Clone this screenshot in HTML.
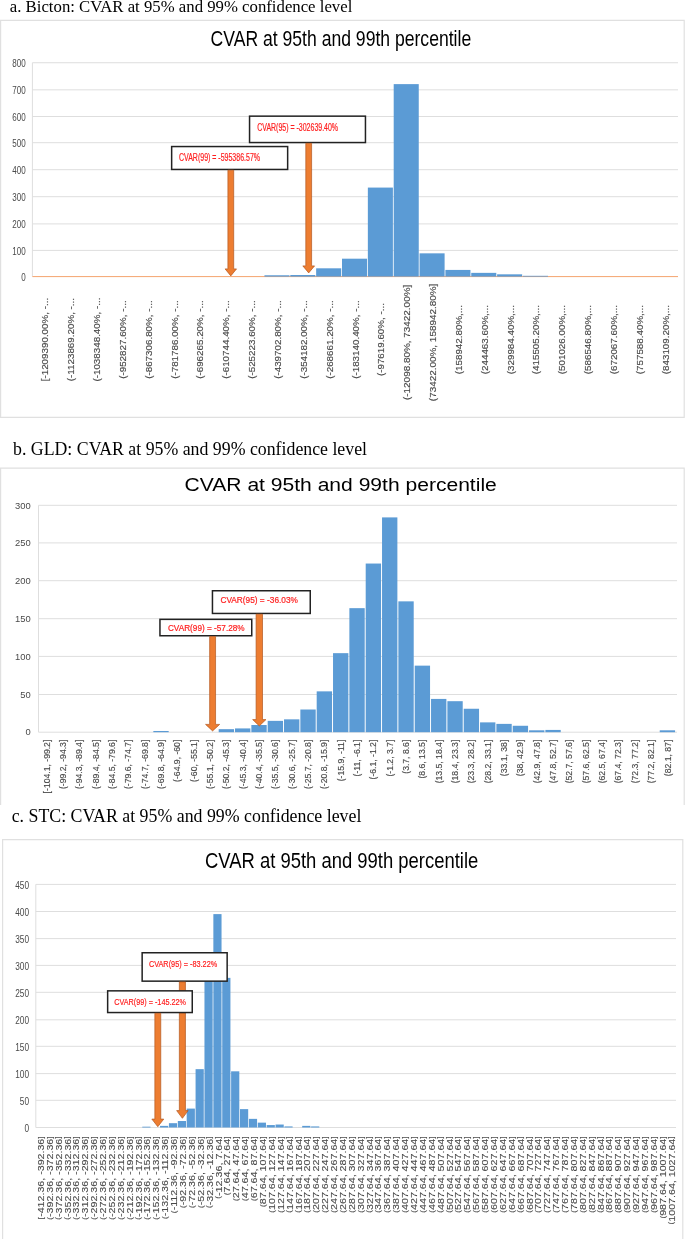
<!DOCTYPE html><html><head><meta charset="utf-8"><style>html,body{margin:0;padding:0;background:#fff;} svg{display:block;will-change:transform;}</style></head><body>
<svg width="685" height="1239" viewBox="0 0 685 1239">
<rect width="685" height="1239" fill="#fff"/>
<text x="9.80" y="12.30" font-family="'Liberation Serif', serif" font-size="16.6" fill="#000" text-anchor="start" textLength="342.50" lengthAdjust="spacingAndGlyphs" >a. Bicton: CVAR at 95% and 99% confidence level</text>
<path d="M0.6,417.3 L0.6,20.3 L684.2,20.3 L684.2,417.3 Z" fill="none" stroke="#e0e0e0" stroke-width="1.2"/>
<text x="210.60" y="46.40" font-family="'Liberation Sans', sans-serif" font-size="21.4" fill="#000" text-anchor="start" textLength="260.60" lengthAdjust="spacingAndGlyphs" >CVAR at 95th and 99th percentile</text>
<line x1="32.4" y1="250.40" x2="678" y2="250.40" stroke="#dedede" stroke-width="1"/>
<line x1="32.4" y1="223.90" x2="678" y2="223.90" stroke="#dedede" stroke-width="1"/>
<line x1="32.4" y1="196.70" x2="678" y2="196.70" stroke="#dedede" stroke-width="1"/>
<line x1="32.4" y1="169.70" x2="678" y2="169.70" stroke="#dedede" stroke-width="1"/>
<line x1="32.4" y1="142.70" x2="678" y2="142.70" stroke="#dedede" stroke-width="1"/>
<line x1="32.4" y1="116.50" x2="678" y2="116.50" stroke="#dedede" stroke-width="1"/>
<line x1="32.4" y1="89.84" x2="678" y2="89.84" stroke="#dedede" stroke-width="1"/>
<line x1="32.4" y1="62.74" x2="678" y2="62.74" stroke="#dedede" stroke-width="1"/>
<line x1="32.4" y1="62.74" x2="32.4" y2="276.60" stroke="#dedede" stroke-width="1"/>
<line x1="32.4" y1="276.60" x2="678" y2="276.60" stroke="#f4a46f" stroke-width="1"/>
<rect x="264.45" y="275.26" width="25.05" height="1.34" fill="#5b9bd5"/>
<rect x="290.30" y="275.00" width="25.05" height="1.60" fill="#5b9bd5"/>
<rect x="316.15" y="268.31" width="25.05" height="8.29" fill="#5b9bd5"/>
<rect x="342.00" y="258.69" width="25.05" height="17.91" fill="#5b9bd5"/>
<rect x="367.85" y="187.58" width="25.05" height="89.02" fill="#5b9bd5"/>
<rect x="393.70" y="84.12" width="25.05" height="192.48" fill="#5b9bd5"/>
<rect x="419.55" y="253.34" width="25.05" height="23.26" fill="#5b9bd5"/>
<rect x="445.40" y="269.92" width="25.05" height="6.68" fill="#5b9bd5"/>
<rect x="471.25" y="272.86" width="25.05" height="3.74" fill="#5b9bd5"/>
<rect x="497.10" y="274.33" width="25.05" height="2.27" fill="#5b9bd5"/>
<rect x="522.95" y="275.80" width="25.05" height="0.80" fill="#5b9bd5"/>
<text x="25.70" y="280.90" font-family="'Liberation Sans', sans-serif" font-size="10.4" fill="#4a4a4a" text-anchor="end" textLength="4.47" lengthAdjust="spacingAndGlyphs" >0</text>
<text x="25.70" y="254.70" font-family="'Liberation Sans', sans-serif" font-size="10.4" fill="#4a4a4a" text-anchor="end" textLength="13.40" lengthAdjust="spacingAndGlyphs" >100</text>
<text x="25.70" y="228.20" font-family="'Liberation Sans', sans-serif" font-size="10.4" fill="#4a4a4a" text-anchor="end" textLength="13.40" lengthAdjust="spacingAndGlyphs" >200</text>
<text x="25.70" y="201.00" font-family="'Liberation Sans', sans-serif" font-size="10.4" fill="#4a4a4a" text-anchor="end" textLength="13.40" lengthAdjust="spacingAndGlyphs" >300</text>
<text x="25.70" y="174.00" font-family="'Liberation Sans', sans-serif" font-size="10.4" fill="#4a4a4a" text-anchor="end" textLength="13.40" lengthAdjust="spacingAndGlyphs" >400</text>
<text x="25.70" y="147.00" font-family="'Liberation Sans', sans-serif" font-size="10.4" fill="#4a4a4a" text-anchor="end" textLength="13.40" lengthAdjust="spacingAndGlyphs" >500</text>
<text x="25.70" y="120.80" font-family="'Liberation Sans', sans-serif" font-size="10.4" fill="#4a4a4a" text-anchor="end" textLength="13.40" lengthAdjust="spacingAndGlyphs" >600</text>
<text x="25.70" y="94.14" font-family="'Liberation Sans', sans-serif" font-size="10.4" fill="#4a4a4a" text-anchor="end" textLength="13.40" lengthAdjust="spacingAndGlyphs" >700</text>
<text x="25.70" y="67.04" font-family="'Liberation Sans', sans-serif" font-size="10.4" fill="#4a4a4a" text-anchor="end" textLength="13.40" lengthAdjust="spacingAndGlyphs" >800</text>
<text transform="translate(48.33,339.60) rotate(-90)" x="0" y="0" font-family="'Liberation Sans', sans-serif" font-size="8.2" fill="#4a4a4a" stroke="#4a4a4a" stroke-width="0.15" text-anchor="middle" textLength="83.40" lengthAdjust="spacingAndGlyphs">[-1209390.00%, -...</text>
<text transform="translate(74.18,339.60) rotate(-90)" x="0" y="0" font-family="'Liberation Sans', sans-serif" font-size="8.2" fill="#4a4a4a" stroke="#4a4a4a" stroke-width="0.15" text-anchor="middle" textLength="83.21" lengthAdjust="spacingAndGlyphs">(-1123869.20%, -...</text>
<text transform="translate(100.03,339.60) rotate(-90)" x="0" y="0" font-family="'Liberation Sans', sans-serif" font-size="8.2" fill="#4a4a4a" stroke="#4a4a4a" stroke-width="0.15" text-anchor="middle" textLength="83.94" lengthAdjust="spacingAndGlyphs">(-1038348.40%, -...</text>
<text transform="translate(125.88,339.60) rotate(-90)" x="0" y="0" font-family="'Liberation Sans', sans-serif" font-size="8.2" fill="#4a4a4a" stroke="#4a4a4a" stroke-width="0.15" text-anchor="middle" textLength="78.49" lengthAdjust="spacingAndGlyphs">(-952827.60%, -...</text>
<text transform="translate(151.72,339.60) rotate(-90)" x="0" y="0" font-family="'Liberation Sans', sans-serif" font-size="8.2" fill="#4a4a4a" stroke="#4a4a4a" stroke-width="0.15" text-anchor="middle" textLength="78.49" lengthAdjust="spacingAndGlyphs">(-867306.80%, -...</text>
<text transform="translate(177.58,339.60) rotate(-90)" x="0" y="0" font-family="'Liberation Sans', sans-serif" font-size="8.2" fill="#4a4a4a" stroke="#4a4a4a" stroke-width="0.15" text-anchor="middle" textLength="78.49" lengthAdjust="spacingAndGlyphs">(-781786.00%, -...</text>
<text transform="translate(203.43,339.60) rotate(-90)" x="0" y="0" font-family="'Liberation Sans', sans-serif" font-size="8.2" fill="#4a4a4a" stroke="#4a4a4a" stroke-width="0.15" text-anchor="middle" textLength="78.49" lengthAdjust="spacingAndGlyphs">(-696265.20%, -...</text>
<text transform="translate(229.28,339.60) rotate(-90)" x="0" y="0" font-family="'Liberation Sans', sans-serif" font-size="8.2" fill="#4a4a4a" stroke="#4a4a4a" stroke-width="0.15" text-anchor="middle" textLength="78.49" lengthAdjust="spacingAndGlyphs">(-610744.40%, -...</text>
<text transform="translate(255.13,339.60) rotate(-90)" x="0" y="0" font-family="'Liberation Sans', sans-serif" font-size="8.2" fill="#4a4a4a" stroke="#4a4a4a" stroke-width="0.15" text-anchor="middle" textLength="78.49" lengthAdjust="spacingAndGlyphs">(-525223.60%, -...</text>
<text transform="translate(280.98,339.60) rotate(-90)" x="0" y="0" font-family="'Liberation Sans', sans-serif" font-size="8.2" fill="#4a4a4a" stroke="#4a4a4a" stroke-width="0.15" text-anchor="middle" textLength="78.49" lengthAdjust="spacingAndGlyphs">(-439702.80%, -...</text>
<text transform="translate(306.82,339.60) rotate(-90)" x="0" y="0" font-family="'Liberation Sans', sans-serif" font-size="8.2" fill="#4a4a4a" stroke="#4a4a4a" stroke-width="0.15" text-anchor="middle" textLength="78.49" lengthAdjust="spacingAndGlyphs">(-354182.00%, -...</text>
<text transform="translate(332.68,339.60) rotate(-90)" x="0" y="0" font-family="'Liberation Sans', sans-serif" font-size="8.2" fill="#4a4a4a" stroke="#4a4a4a" stroke-width="0.15" text-anchor="middle" textLength="78.49" lengthAdjust="spacingAndGlyphs">(-268661.20%, -...</text>
<text transform="translate(358.52,339.60) rotate(-90)" x="0" y="0" font-family="'Liberation Sans', sans-serif" font-size="8.2" fill="#4a4a4a" stroke="#4a4a4a" stroke-width="0.15" text-anchor="middle" textLength="78.49" lengthAdjust="spacingAndGlyphs">(-183140.40%, -...</text>
<text transform="translate(384.38,339.60) rotate(-90)" x="0" y="0" font-family="'Liberation Sans', sans-serif" font-size="8.2" fill="#4a4a4a" stroke="#4a4a4a" stroke-width="0.15" text-anchor="middle" textLength="73.03" lengthAdjust="spacingAndGlyphs">(-97619.60%, -...</text>
<text transform="translate(410.23,342.40) rotate(-90)" x="0" y="0" font-family="'Liberation Sans', sans-serif" font-size="8.2" fill="#4a4a4a" stroke="#4a4a4a" stroke-width="0.15" text-anchor="middle" textLength="115.26" lengthAdjust="spacingAndGlyphs">(-12098.80%, 73422.00%]</text>
<text transform="translate(436.07,342.40) rotate(-90)" x="0" y="0" font-family="'Liberation Sans', sans-serif" font-size="8.2" fill="#4a4a4a" stroke="#4a4a4a" stroke-width="0.15" text-anchor="middle" textLength="117.47" lengthAdjust="spacingAndGlyphs">(73422.00%, 158942.80%]</text>
<text transform="translate(461.93,339.60) rotate(-90)" x="0" y="0" font-family="'Liberation Sans', sans-serif" font-size="8.2" fill="#4a4a4a" stroke="#4a4a4a" stroke-width="0.15" text-anchor="middle" textLength="69.23" lengthAdjust="spacingAndGlyphs">(158942.80%,...</text>
<text transform="translate(487.77,339.60) rotate(-90)" x="0" y="0" font-family="'Liberation Sans', sans-serif" font-size="8.2" fill="#4a4a4a" stroke="#4a4a4a" stroke-width="0.15" text-anchor="middle" textLength="69.23" lengthAdjust="spacingAndGlyphs">(244463.60%,...</text>
<text transform="translate(513.62,339.60) rotate(-90)" x="0" y="0" font-family="'Liberation Sans', sans-serif" font-size="8.2" fill="#4a4a4a" stroke="#4a4a4a" stroke-width="0.15" text-anchor="middle" textLength="69.23" lengthAdjust="spacingAndGlyphs">(329984.40%,...</text>
<text transform="translate(539.48,339.60) rotate(-90)" x="0" y="0" font-family="'Liberation Sans', sans-serif" font-size="8.2" fill="#4a4a4a" stroke="#4a4a4a" stroke-width="0.15" text-anchor="middle" textLength="69.23" lengthAdjust="spacingAndGlyphs">(415505.20%,...</text>
<text transform="translate(565.33,339.60) rotate(-90)" x="0" y="0" font-family="'Liberation Sans', sans-serif" font-size="8.2" fill="#4a4a4a" stroke="#4a4a4a" stroke-width="0.15" text-anchor="middle" textLength="69.23" lengthAdjust="spacingAndGlyphs">(501026.00%,...</text>
<text transform="translate(591.17,339.60) rotate(-90)" x="0" y="0" font-family="'Liberation Sans', sans-serif" font-size="8.2" fill="#4a4a4a" stroke="#4a4a4a" stroke-width="0.15" text-anchor="middle" textLength="69.23" lengthAdjust="spacingAndGlyphs">(586546.80%,...</text>
<text transform="translate(617.02,339.60) rotate(-90)" x="0" y="0" font-family="'Liberation Sans', sans-serif" font-size="8.2" fill="#4a4a4a" stroke="#4a4a4a" stroke-width="0.15" text-anchor="middle" textLength="69.23" lengthAdjust="spacingAndGlyphs">(672067.60%,...</text>
<text transform="translate(642.88,339.60) rotate(-90)" x="0" y="0" font-family="'Liberation Sans', sans-serif" font-size="8.2" fill="#4a4a4a" stroke="#4a4a4a" stroke-width="0.15" text-anchor="middle" textLength="69.23" lengthAdjust="spacingAndGlyphs">(757588.40%,...</text>
<text transform="translate(668.73,339.60) rotate(-90)" x="0" y="0" font-family="'Liberation Sans', sans-serif" font-size="8.2" fill="#4a4a4a" stroke="#4a4a4a" stroke-width="0.15" text-anchor="middle" textLength="69.23" lengthAdjust="spacingAndGlyphs">(843109.20%,...</text>
<rect x="171.65" y="146.55" width="116.00" height="22.90" fill="#fff" stroke="#222" stroke-width="1.5"/>
<text x="179.00" y="161.10" font-family="'Liberation Sans', sans-serif" font-size="10.0" fill="#ff2020" text-anchor="start" textLength="81.00" lengthAdjust="spacingAndGlyphs" stroke="#ff2020" stroke-width="0.2">CVAR(99) = -595386.57%</text>
<rect x="249.55" y="116.15" width="115.90" height="26.40" fill="#fff" stroke="#222" stroke-width="1.5"/>
<text x="257.20" y="130.50" font-family="'Liberation Sans', sans-serif" font-size="10.0" fill="#ff2020" text-anchor="start" textLength="80.90" lengthAdjust="spacingAndGlyphs" stroke="#ff2020" stroke-width="0.2">CVAR(95) = -302639.40%</text>
<path d="M227.90,170.20 L233.70,170.20 L233.70,268.90 L236.50,268.90 L230.80,275.90 L225.10,268.90 L227.90,268.90 Z" fill="#ed7d31" stroke="#b3581f" stroke-width="0.7" stroke-linejoin="miter"/>
<path d="M305.80,143.30 L311.60,143.30 L311.60,265.90 L314.55,265.90 L308.70,272.90 L302.85,265.90 L305.80,265.90 Z" fill="#ed7d31" stroke="#b3581f" stroke-width="0.7" stroke-linejoin="miter"/>
<text x="13.00" y="455.00" font-family="'Liberation Serif', serif" font-size="17.8" fill="#000" text-anchor="start" textLength="354.00" lengthAdjust="spacingAndGlyphs" >b. GLD: CVAR at 95% and 99% confidence level</text>
<path d="M0.6,805 L0.6,468.2 L684.2,468.2 L684.2,805" fill="none" stroke="#e0e0e0" stroke-width="1.2"/>
<text x="184.60" y="491.40" font-family="'Liberation Sans', sans-serif" font-size="18.9" fill="#000" text-anchor="start" textLength="312.20" lengthAdjust="spacingAndGlyphs" >CVAR at 95th and 99th percentile</text>
<line x1="38.5" y1="732.20" x2="677" y2="732.20" stroke="#dedede" stroke-width="1"/>
<line x1="38.5" y1="694.50" x2="677" y2="694.50" stroke="#dedede" stroke-width="1"/>
<line x1="38.5" y1="656.40" x2="677" y2="656.40" stroke="#dedede" stroke-width="1"/>
<line x1="38.5" y1="618.70" x2="677" y2="618.70" stroke="#dedede" stroke-width="1"/>
<line x1="38.5" y1="580.70" x2="677" y2="580.70" stroke="#dedede" stroke-width="1"/>
<line x1="38.5" y1="542.90" x2="677" y2="542.90" stroke="#dedede" stroke-width="1"/>
<line x1="38.5" y1="505.30" x2="677" y2="505.30" stroke="#dedede" stroke-width="1"/>
<line x1="38.5" y1="505.30" x2="38.5" y2="732.20" stroke="#dedede" stroke-width="1"/>
<rect x="153.34" y="730.99" width="15.34" height="1.21" fill="#5b9bd5"/>
<rect x="218.69" y="729.17" width="15.34" height="3.03" fill="#5b9bd5"/>
<rect x="235.02" y="728.42" width="15.34" height="3.78" fill="#5b9bd5"/>
<rect x="251.36" y="725.01" width="15.34" height="7.19" fill="#5b9bd5"/>
<rect x="267.69" y="720.86" width="15.34" height="11.34" fill="#5b9bd5"/>
<rect x="284.02" y="719.34" width="15.34" height="12.86" fill="#5b9bd5"/>
<rect x="300.36" y="709.51" width="15.34" height="22.69" fill="#5b9bd5"/>
<rect x="316.69" y="691.36" width="15.34" height="40.84" fill="#5b9bd5"/>
<rect x="333.03" y="653.16" width="15.34" height="79.04" fill="#5b9bd5"/>
<rect x="349.37" y="608.16" width="15.34" height="124.04" fill="#5b9bd5"/>
<rect x="365.70" y="563.54" width="15.34" height="168.66" fill="#5b9bd5"/>
<rect x="382.04" y="517.40" width="15.34" height="214.80" fill="#5b9bd5"/>
<rect x="398.37" y="601.35" width="15.34" height="130.85" fill="#5b9bd5"/>
<rect x="414.71" y="665.64" width="15.34" height="66.56" fill="#5b9bd5"/>
<rect x="431.04" y="698.92" width="15.34" height="33.28" fill="#5b9bd5"/>
<rect x="447.38" y="701.19" width="15.34" height="31.01" fill="#5b9bd5"/>
<rect x="463.71" y="708.75" width="15.34" height="23.45" fill="#5b9bd5"/>
<rect x="480.05" y="722.37" width="15.34" height="9.83" fill="#5b9bd5"/>
<rect x="496.38" y="723.88" width="15.34" height="8.32" fill="#5b9bd5"/>
<rect x="512.72" y="725.77" width="15.34" height="6.43" fill="#5b9bd5"/>
<rect x="529.05" y="730.31" width="15.34" height="1.89" fill="#5b9bd5"/>
<rect x="545.38" y="729.93" width="15.34" height="2.27" fill="#5b9bd5"/>
<rect x="659.73" y="730.31" width="15.34" height="1.89" fill="#5b9bd5"/>
<text x="30.80" y="735.40" font-family="'Liberation Sans', sans-serif" font-size="8.8" fill="#4a4a4a" text-anchor="end" textLength="5.23" lengthAdjust="spacingAndGlyphs" >0</text>
<text x="30.80" y="697.70" font-family="'Liberation Sans', sans-serif" font-size="8.8" fill="#4a4a4a" text-anchor="end" textLength="10.47" lengthAdjust="spacingAndGlyphs" >50</text>
<text x="30.80" y="659.60" font-family="'Liberation Sans', sans-serif" font-size="8.8" fill="#4a4a4a" text-anchor="end" textLength="15.70" lengthAdjust="spacingAndGlyphs" >100</text>
<text x="30.80" y="621.90" font-family="'Liberation Sans', sans-serif" font-size="8.8" fill="#4a4a4a" text-anchor="end" textLength="15.70" lengthAdjust="spacingAndGlyphs" >150</text>
<text x="30.80" y="583.90" font-family="'Liberation Sans', sans-serif" font-size="8.8" fill="#4a4a4a" text-anchor="end" textLength="15.70" lengthAdjust="spacingAndGlyphs" >200</text>
<text x="30.80" y="546.10" font-family="'Liberation Sans', sans-serif" font-size="8.8" fill="#4a4a4a" text-anchor="end" textLength="15.70" lengthAdjust="spacingAndGlyphs" >250</text>
<text x="30.80" y="508.50" font-family="'Liberation Sans', sans-serif" font-size="8.8" fill="#4a4a4a" text-anchor="end" textLength="15.70" lengthAdjust="spacingAndGlyphs" >300</text>
<text transform="translate(49.77,739.70) rotate(-90)" x="0" y="0" font-family="'Liberation Sans', sans-serif" font-size="9.4" fill="#4a4a4a" stroke="#4a4a4a" stroke-width="0.15" text-anchor="end" textLength="53.70" lengthAdjust="spacingAndGlyphs">[-104.1, -99.2]</text>
<text transform="translate(66.10,739.70) rotate(-90)" x="0" y="0" font-family="'Liberation Sans', sans-serif" font-size="9.4" fill="#4a4a4a" stroke="#4a4a4a" stroke-width="0.15" text-anchor="end" textLength="49.38" lengthAdjust="spacingAndGlyphs">(-99.2, -94.3]</text>
<text transform="translate(82.44,739.70) rotate(-90)" x="0" y="0" font-family="'Liberation Sans', sans-serif" font-size="9.4" fill="#4a4a4a" stroke="#4a4a4a" stroke-width="0.15" text-anchor="end" textLength="49.38" lengthAdjust="spacingAndGlyphs">(-94.3, -89.4]</text>
<text transform="translate(98.77,739.70) rotate(-90)" x="0" y="0" font-family="'Liberation Sans', sans-serif" font-size="9.4" fill="#4a4a4a" stroke="#4a4a4a" stroke-width="0.15" text-anchor="end" textLength="49.38" lengthAdjust="spacingAndGlyphs">(-89.4, -84.5]</text>
<text transform="translate(115.11,739.70) rotate(-90)" x="0" y="0" font-family="'Liberation Sans', sans-serif" font-size="9.4" fill="#4a4a4a" stroke="#4a4a4a" stroke-width="0.15" text-anchor="end" textLength="49.38" lengthAdjust="spacingAndGlyphs">(-84.5, -79.6]</text>
<text transform="translate(131.44,739.70) rotate(-90)" x="0" y="0" font-family="'Liberation Sans', sans-serif" font-size="9.4" fill="#4a4a4a" stroke="#4a4a4a" stroke-width="0.15" text-anchor="end" textLength="49.38" lengthAdjust="spacingAndGlyphs">(-79.6, -74.7]</text>
<text transform="translate(147.78,739.70) rotate(-90)" x="0" y="0" font-family="'Liberation Sans', sans-serif" font-size="9.4" fill="#4a4a4a" stroke="#4a4a4a" stroke-width="0.15" text-anchor="end" textLength="49.38" lengthAdjust="spacingAndGlyphs">(-74.7, -69.8]</text>
<text transform="translate(164.11,739.70) rotate(-90)" x="0" y="0" font-family="'Liberation Sans', sans-serif" font-size="9.4" fill="#4a4a4a" stroke="#4a4a4a" stroke-width="0.15" text-anchor="end" textLength="49.38" lengthAdjust="spacingAndGlyphs">(-69.8, -64.9]</text>
<text transform="translate(180.45,739.70) rotate(-90)" x="0" y="0" font-family="'Liberation Sans', sans-serif" font-size="9.4" fill="#4a4a4a" stroke="#4a4a4a" stroke-width="0.15" text-anchor="end" textLength="42.19" lengthAdjust="spacingAndGlyphs">(-64.9, -60]</text>
<text transform="translate(196.78,739.70) rotate(-90)" x="0" y="0" font-family="'Liberation Sans', sans-serif" font-size="9.4" fill="#4a4a4a" stroke="#4a4a4a" stroke-width="0.15" text-anchor="end" textLength="42.19" lengthAdjust="spacingAndGlyphs">(-60, -55.1]</text>
<text transform="translate(213.12,739.70) rotate(-90)" x="0" y="0" font-family="'Liberation Sans', sans-serif" font-size="9.4" fill="#4a4a4a" stroke="#4a4a4a" stroke-width="0.15" text-anchor="end" textLength="49.38" lengthAdjust="spacingAndGlyphs">(-55.1, -50.2]</text>
<text transform="translate(229.45,739.70) rotate(-90)" x="0" y="0" font-family="'Liberation Sans', sans-serif" font-size="9.4" fill="#4a4a4a" stroke="#4a4a4a" stroke-width="0.15" text-anchor="end" textLength="49.38" lengthAdjust="spacingAndGlyphs">(-50.2, -45.3]</text>
<text transform="translate(245.79,739.70) rotate(-90)" x="0" y="0" font-family="'Liberation Sans', sans-serif" font-size="9.4" fill="#4a4a4a" stroke="#4a4a4a" stroke-width="0.15" text-anchor="end" textLength="49.38" lengthAdjust="spacingAndGlyphs">(-45.3, -40.4]</text>
<text transform="translate(262.12,739.70) rotate(-90)" x="0" y="0" font-family="'Liberation Sans', sans-serif" font-size="9.4" fill="#4a4a4a" stroke="#4a4a4a" stroke-width="0.15" text-anchor="end" textLength="49.38" lengthAdjust="spacingAndGlyphs">(-40.4, -35.5]</text>
<text transform="translate(278.46,739.70) rotate(-90)" x="0" y="0" font-family="'Liberation Sans', sans-serif" font-size="9.4" fill="#4a4a4a" stroke="#4a4a4a" stroke-width="0.15" text-anchor="end" textLength="49.38" lengthAdjust="spacingAndGlyphs">(-35.5, -30.6]</text>
<text transform="translate(294.79,739.70) rotate(-90)" x="0" y="0" font-family="'Liberation Sans', sans-serif" font-size="9.4" fill="#4a4a4a" stroke="#4a4a4a" stroke-width="0.15" text-anchor="end" textLength="49.38" lengthAdjust="spacingAndGlyphs">(-30.6, -25.7]</text>
<text transform="translate(311.13,739.70) rotate(-90)" x="0" y="0" font-family="'Liberation Sans', sans-serif" font-size="9.4" fill="#4a4a4a" stroke="#4a4a4a" stroke-width="0.15" text-anchor="end" textLength="49.38" lengthAdjust="spacingAndGlyphs">(-25.7, -20.8]</text>
<text transform="translate(327.46,739.70) rotate(-90)" x="0" y="0" font-family="'Liberation Sans', sans-serif" font-size="9.4" fill="#4a4a4a" stroke="#4a4a4a" stroke-width="0.15" text-anchor="end" textLength="49.38" lengthAdjust="spacingAndGlyphs">(-20.8, -15.9]</text>
<text transform="translate(343.80,739.70) rotate(-90)" x="0" y="0" font-family="'Liberation Sans', sans-serif" font-size="9.4" fill="#4a4a4a" stroke="#4a4a4a" stroke-width="0.15" text-anchor="end" textLength="41.55" lengthAdjust="spacingAndGlyphs">(-15.9, -11]</text>
<text transform="translate(360.13,739.70) rotate(-90)" x="0" y="0" font-family="'Liberation Sans', sans-serif" font-size="9.4" fill="#4a4a4a" stroke="#4a4a4a" stroke-width="0.15" text-anchor="end" textLength="36.75" lengthAdjust="spacingAndGlyphs">(-11, -6.1]</text>
<text transform="translate(376.47,739.70) rotate(-90)" x="0" y="0" font-family="'Liberation Sans', sans-serif" font-size="9.4" fill="#4a4a4a" stroke="#4a4a4a" stroke-width="0.15" text-anchor="end" textLength="39.79" lengthAdjust="spacingAndGlyphs">(-6.1, -1.2]</text>
<text transform="translate(392.80,739.70) rotate(-90)" x="0" y="0" font-family="'Liberation Sans', sans-serif" font-size="9.4" fill="#4a4a4a" stroke="#4a4a4a" stroke-width="0.15" text-anchor="end" textLength="36.91" lengthAdjust="spacingAndGlyphs">(-1.2, 3.7]</text>
<text transform="translate(409.14,739.70) rotate(-90)" x="0" y="0" font-family="'Liberation Sans', sans-serif" font-size="9.4" fill="#4a4a4a" stroke="#4a4a4a" stroke-width="0.15" text-anchor="end" textLength="34.04" lengthAdjust="spacingAndGlyphs">(3.7, 8.6]</text>
<text transform="translate(425.47,739.70) rotate(-90)" x="0" y="0" font-family="'Liberation Sans', sans-serif" font-size="9.4" fill="#4a4a4a" stroke="#4a4a4a" stroke-width="0.15" text-anchor="end" textLength="38.84" lengthAdjust="spacingAndGlyphs">(8.6, 13.5]</text>
<text transform="translate(441.81,739.70) rotate(-90)" x="0" y="0" font-family="'Liberation Sans', sans-serif" font-size="9.4" fill="#4a4a4a" stroke="#4a4a4a" stroke-width="0.15" text-anchor="end" textLength="43.63" lengthAdjust="spacingAndGlyphs">(13.5, 18.4]</text>
<text transform="translate(458.14,739.70) rotate(-90)" x="0" y="0" font-family="'Liberation Sans', sans-serif" font-size="9.4" fill="#4a4a4a" stroke="#4a4a4a" stroke-width="0.15" text-anchor="end" textLength="43.63" lengthAdjust="spacingAndGlyphs">(18.4, 23.3]</text>
<text transform="translate(474.48,739.70) rotate(-90)" x="0" y="0" font-family="'Liberation Sans', sans-serif" font-size="9.4" fill="#4a4a4a" stroke="#4a4a4a" stroke-width="0.15" text-anchor="end" textLength="43.63" lengthAdjust="spacingAndGlyphs">(23.3, 28.2]</text>
<text transform="translate(490.81,739.70) rotate(-90)" x="0" y="0" font-family="'Liberation Sans', sans-serif" font-size="9.4" fill="#4a4a4a" stroke="#4a4a4a" stroke-width="0.15" text-anchor="end" textLength="43.63" lengthAdjust="spacingAndGlyphs">(28.2, 33.1]</text>
<text transform="translate(507.15,739.70) rotate(-90)" x="0" y="0" font-family="'Liberation Sans', sans-serif" font-size="9.4" fill="#4a4a4a" stroke="#4a4a4a" stroke-width="0.15" text-anchor="end" textLength="36.44" lengthAdjust="spacingAndGlyphs">(33.1, 38]</text>
<text transform="translate(523.48,739.70) rotate(-90)" x="0" y="0" font-family="'Liberation Sans', sans-serif" font-size="9.4" fill="#4a4a4a" stroke="#4a4a4a" stroke-width="0.15" text-anchor="end" textLength="36.44" lengthAdjust="spacingAndGlyphs">(38, 42.9]</text>
<text transform="translate(539.82,739.70) rotate(-90)" x="0" y="0" font-family="'Liberation Sans', sans-serif" font-size="9.4" fill="#4a4a4a" stroke="#4a4a4a" stroke-width="0.15" text-anchor="end" textLength="43.63" lengthAdjust="spacingAndGlyphs">(42.9, 47.8]</text>
<text transform="translate(556.15,739.70) rotate(-90)" x="0" y="0" font-family="'Liberation Sans', sans-serif" font-size="9.4" fill="#4a4a4a" stroke="#4a4a4a" stroke-width="0.15" text-anchor="end" textLength="43.63" lengthAdjust="spacingAndGlyphs">(47.8, 52.7]</text>
<text transform="translate(572.49,739.70) rotate(-90)" x="0" y="0" font-family="'Liberation Sans', sans-serif" font-size="9.4" fill="#4a4a4a" stroke="#4a4a4a" stroke-width="0.15" text-anchor="end" textLength="43.63" lengthAdjust="spacingAndGlyphs">(52.7, 57.6]</text>
<text transform="translate(588.82,739.70) rotate(-90)" x="0" y="0" font-family="'Liberation Sans', sans-serif" font-size="9.4" fill="#4a4a4a" stroke="#4a4a4a" stroke-width="0.15" text-anchor="end" textLength="43.63" lengthAdjust="spacingAndGlyphs">(57.6, 62.5]</text>
<text transform="translate(605.16,739.70) rotate(-90)" x="0" y="0" font-family="'Liberation Sans', sans-serif" font-size="9.4" fill="#4a4a4a" stroke="#4a4a4a" stroke-width="0.15" text-anchor="end" textLength="43.63" lengthAdjust="spacingAndGlyphs">(62.5, 67.4]</text>
<text transform="translate(621.49,739.70) rotate(-90)" x="0" y="0" font-family="'Liberation Sans', sans-serif" font-size="9.4" fill="#4a4a4a" stroke="#4a4a4a" stroke-width="0.15" text-anchor="end" textLength="43.63" lengthAdjust="spacingAndGlyphs">(67.4, 72.3]</text>
<text transform="translate(637.83,739.70) rotate(-90)" x="0" y="0" font-family="'Liberation Sans', sans-serif" font-size="9.4" fill="#4a4a4a" stroke="#4a4a4a" stroke-width="0.15" text-anchor="end" textLength="43.63" lengthAdjust="spacingAndGlyphs">(72.3, 77.2]</text>
<text transform="translate(654.16,739.70) rotate(-90)" x="0" y="0" font-family="'Liberation Sans', sans-serif" font-size="9.4" fill="#4a4a4a" stroke="#4a4a4a" stroke-width="0.15" text-anchor="end" textLength="43.63" lengthAdjust="spacingAndGlyphs">(77.2, 82.1]</text>
<text transform="translate(670.50,739.70) rotate(-90)" x="0" y="0" font-family="'Liberation Sans', sans-serif" font-size="9.4" fill="#4a4a4a" stroke="#4a4a4a" stroke-width="0.15" text-anchor="end" textLength="36.44" lengthAdjust="spacingAndGlyphs">(82.1, 87]</text>
<rect x="159.95" y="619.35" width="91.80" height="16.40" fill="#fff" stroke="#222" stroke-width="1.5"/>
<text x="167.90" y="630.90" font-family="'Liberation Sans', sans-serif" font-size="8.6" fill="#ff2020" text-anchor="start" textLength="76.70" lengthAdjust="spacingAndGlyphs" stroke="#ff2020" stroke-width="0.2">CVAR(99) = -57.28%</text>
<rect x="212.45" y="590.75" width="97.80" height="22.70" fill="#fff" stroke="#222" stroke-width="1.5"/>
<text x="220.40" y="603.20" font-family="'Liberation Sans', sans-serif" font-size="8.6" fill="#ff2020" text-anchor="start" textLength="77.50" lengthAdjust="spacingAndGlyphs" stroke="#ff2020" stroke-width="0.2">CVAR(95) = -36.03%</text>
<path d="M209.65,636.50 L215.55,636.50 L215.55,724.40 L219.65,724.40 L212.60,730.90 L205.55,724.40 L209.65,724.40 Z" fill="#ed7d31" stroke="#b3581f" stroke-width="0.7" stroke-linejoin="miter"/>
<path d="M256.10,614.20 L262.50,614.20 L262.50,719.60 L265.95,719.60 L259.30,725.90 L252.65,719.60 L256.10,719.60 Z" fill="#ed7d31" stroke="#b3581f" stroke-width="0.7" stroke-linejoin="miter"/>
<text x="11.70" y="822.20" font-family="'Liberation Serif', serif" font-size="17.8" fill="#000" text-anchor="start" textLength="349.70" lengthAdjust="spacingAndGlyphs" >c. STC: CVAR at 95% and 99% confidence level</text>
<path d="M2.6,1300 L2.6,839.7 L682.8,839.7 L682.8,1300" fill="none" stroke="#e0e0e0" stroke-width="1.2"/>
<text x="204.90" y="867.90" font-family="'Liberation Sans', sans-serif" font-size="21.5" fill="#000" text-anchor="start" textLength="273.40" lengthAdjust="spacingAndGlyphs" >CVAR at 95th and 99th percentile</text>
<line x1="35.8" y1="1127.50" x2="676" y2="1127.50" stroke="#dedede" stroke-width="1"/>
<line x1="35.8" y1="1100.30" x2="676" y2="1100.30" stroke="#dedede" stroke-width="1"/>
<line x1="35.8" y1="1073.60" x2="676" y2="1073.60" stroke="#dedede" stroke-width="1"/>
<line x1="35.8" y1="1046.30" x2="676" y2="1046.30" stroke="#dedede" stroke-width="1"/>
<line x1="35.8" y1="1019.80" x2="676" y2="1019.80" stroke="#dedede" stroke-width="1"/>
<line x1="35.8" y1="992.30" x2="676" y2="992.30" stroke="#dedede" stroke-width="1"/>
<line x1="35.8" y1="965.40" x2="676" y2="965.40" stroke="#dedede" stroke-width="1"/>
<line x1="35.8" y1="938.60" x2="676" y2="938.60" stroke="#dedede" stroke-width="1"/>
<line x1="35.8" y1="911.50" x2="676" y2="911.50" stroke="#dedede" stroke-width="1"/>
<line x1="35.8" y1="884.40" x2="676" y2="884.40" stroke="#dedede" stroke-width="1"/>
<line x1="35.8" y1="884.40" x2="35.8" y2="1127.50" stroke="#dedede" stroke-width="1"/>
<rect x="142.27" y="1126.69" width="8.19" height="0.81" fill="#5b9bd5"/>
<rect x="160.04" y="1125.88" width="8.19" height="1.62" fill="#5b9bd5"/>
<rect x="168.92" y="1123.18" width="8.19" height="4.32" fill="#5b9bd5"/>
<rect x="177.81" y="1121.02" width="8.19" height="6.48" fill="#5b9bd5"/>
<rect x="186.69" y="1108.59" width="8.19" height="18.91" fill="#5b9bd5"/>
<rect x="195.58" y="1069.16" width="8.19" height="58.34" fill="#5b9bd5"/>
<rect x="204.47" y="965.43" width="8.19" height="162.07" fill="#5b9bd5"/>
<rect x="213.35" y="914.11" width="8.19" height="213.39" fill="#5b9bd5"/>
<rect x="222.23" y="977.86" width="8.19" height="149.64" fill="#5b9bd5"/>
<rect x="231.12" y="1071.32" width="8.19" height="56.18" fill="#5b9bd5"/>
<rect x="240.00" y="1109.13" width="8.19" height="18.37" fill="#5b9bd5"/>
<rect x="248.89" y="1118.86" width="8.19" height="8.64" fill="#5b9bd5"/>
<rect x="257.78" y="1122.64" width="8.19" height="4.86" fill="#5b9bd5"/>
<rect x="266.66" y="1125.07" width="8.19" height="2.43" fill="#5b9bd5"/>
<rect x="275.55" y="1124.53" width="8.19" height="2.97" fill="#5b9bd5"/>
<rect x="284.43" y="1126.42" width="8.19" height="1.08" fill="#5b9bd5"/>
<rect x="302.20" y="1125.88" width="8.19" height="1.62" fill="#5b9bd5"/>
<rect x="311.09" y="1126.42" width="8.19" height="1.08" fill="#5b9bd5"/>
<text x="29.00" y="1131.70" font-family="'Liberation Sans', sans-serif" font-size="10" fill="#4a4a4a" text-anchor="end" textLength="4.60" lengthAdjust="spacingAndGlyphs" >0</text>
<text x="29.00" y="1104.50" font-family="'Liberation Sans', sans-serif" font-size="10" fill="#4a4a4a" text-anchor="end" textLength="9.20" lengthAdjust="spacingAndGlyphs" >50</text>
<text x="29.00" y="1077.80" font-family="'Liberation Sans', sans-serif" font-size="10" fill="#4a4a4a" text-anchor="end" textLength="13.80" lengthAdjust="spacingAndGlyphs" >100</text>
<text x="29.00" y="1050.50" font-family="'Liberation Sans', sans-serif" font-size="10" fill="#4a4a4a" text-anchor="end" textLength="13.80" lengthAdjust="spacingAndGlyphs" >150</text>
<text x="29.00" y="1024.00" font-family="'Liberation Sans', sans-serif" font-size="10" fill="#4a4a4a" text-anchor="end" textLength="13.80" lengthAdjust="spacingAndGlyphs" >200</text>
<text x="29.00" y="996.50" font-family="'Liberation Sans', sans-serif" font-size="10" fill="#4a4a4a" text-anchor="end" textLength="13.80" lengthAdjust="spacingAndGlyphs" >250</text>
<text x="29.00" y="969.60" font-family="'Liberation Sans', sans-serif" font-size="10" fill="#4a4a4a" text-anchor="end" textLength="13.80" lengthAdjust="spacingAndGlyphs" >300</text>
<text x="29.00" y="942.80" font-family="'Liberation Sans', sans-serif" font-size="10" fill="#4a4a4a" text-anchor="end" textLength="13.80" lengthAdjust="spacingAndGlyphs" >350</text>
<text x="29.00" y="915.70" font-family="'Liberation Sans', sans-serif" font-size="10" fill="#4a4a4a" text-anchor="end" textLength="13.80" lengthAdjust="spacingAndGlyphs" >400</text>
<text x="29.00" y="888.60" font-family="'Liberation Sans', sans-serif" font-size="10" fill="#4a4a4a" text-anchor="end" textLength="13.80" lengthAdjust="spacingAndGlyphs" >450</text>
<text transform="translate(43.84,1136.40) rotate(-90)" x="0" y="0" font-family="'Liberation Sans', sans-serif" font-size="9.4" fill="#4a4a4a" stroke="#4a4a4a" stroke-width="0.1" text-anchor="end" textLength="82.80" lengthAdjust="spacingAndGlyphs"><tspan font-size="7.33" dy="-1.2">[</tspan><tspan dy="1.2">-412.36, -392.36</tspan><tspan font-size="7.33" dy="-1.2">]</tspan></text>
<text transform="translate(52.73,1136.40) rotate(-90)" x="0" y="0" font-family="'Liberation Sans', sans-serif" font-size="9.4" fill="#4a4a4a" stroke="#4a4a4a" stroke-width="0.1" text-anchor="end" textLength="83.38" lengthAdjust="spacingAndGlyphs"><tspan font-size="7.33" dy="-1.2">(</tspan><tspan dy="1.2">-392.36, -372.36</tspan><tspan font-size="7.33" dy="-1.2">]</tspan></text>
<text transform="translate(61.61,1136.40) rotate(-90)" x="0" y="0" font-family="'Liberation Sans', sans-serif" font-size="9.4" fill="#4a4a4a" stroke="#4a4a4a" stroke-width="0.1" text-anchor="end" textLength="83.38" lengthAdjust="spacingAndGlyphs"><tspan font-size="7.33" dy="-1.2">(</tspan><tspan dy="1.2">-372.36, -352.36</tspan><tspan font-size="7.33" dy="-1.2">]</tspan></text>
<text transform="translate(70.50,1136.40) rotate(-90)" x="0" y="0" font-family="'Liberation Sans', sans-serif" font-size="9.4" fill="#4a4a4a" stroke="#4a4a4a" stroke-width="0.1" text-anchor="end" textLength="83.38" lengthAdjust="spacingAndGlyphs"><tspan font-size="7.33" dy="-1.2">(</tspan><tspan dy="1.2">-352.36, -332.36</tspan><tspan font-size="7.33" dy="-1.2">]</tspan></text>
<text transform="translate(79.38,1136.40) rotate(-90)" x="0" y="0" font-family="'Liberation Sans', sans-serif" font-size="9.4" fill="#4a4a4a" stroke="#4a4a4a" stroke-width="0.1" text-anchor="end" textLength="83.38" lengthAdjust="spacingAndGlyphs"><tspan font-size="7.33" dy="-1.2">(</tspan><tspan dy="1.2">-332.36, -312.36</tspan><tspan font-size="7.33" dy="-1.2">]</tspan></text>
<text transform="translate(88.27,1136.40) rotate(-90)" x="0" y="0" font-family="'Liberation Sans', sans-serif" font-size="9.4" fill="#4a4a4a" stroke="#4a4a4a" stroke-width="0.1" text-anchor="end" textLength="83.38" lengthAdjust="spacingAndGlyphs"><tspan font-size="7.33" dy="-1.2">(</tspan><tspan dy="1.2">-312.36, -292.36</tspan><tspan font-size="7.33" dy="-1.2">]</tspan></text>
<text transform="translate(97.15,1136.40) rotate(-90)" x="0" y="0" font-family="'Liberation Sans', sans-serif" font-size="9.4" fill="#4a4a4a" stroke="#4a4a4a" stroke-width="0.1" text-anchor="end" textLength="83.38" lengthAdjust="spacingAndGlyphs"><tspan font-size="7.33" dy="-1.2">(</tspan><tspan dy="1.2">-292.36, -272.36</tspan><tspan font-size="7.33" dy="-1.2">]</tspan></text>
<text transform="translate(106.04,1136.40) rotate(-90)" x="0" y="0" font-family="'Liberation Sans', sans-serif" font-size="9.4" fill="#4a4a4a" stroke="#4a4a4a" stroke-width="0.1" text-anchor="end" textLength="83.38" lengthAdjust="spacingAndGlyphs"><tspan font-size="7.33" dy="-1.2">(</tspan><tspan dy="1.2">-272.36, -252.36</tspan><tspan font-size="7.33" dy="-1.2">]</tspan></text>
<text transform="translate(114.92,1136.40) rotate(-90)" x="0" y="0" font-family="'Liberation Sans', sans-serif" font-size="9.4" fill="#4a4a4a" stroke="#4a4a4a" stroke-width="0.1" text-anchor="end" textLength="83.38" lengthAdjust="spacingAndGlyphs"><tspan font-size="7.33" dy="-1.2">(</tspan><tspan dy="1.2">-252.36, -232.36</tspan><tspan font-size="7.33" dy="-1.2">]</tspan></text>
<text transform="translate(123.81,1136.40) rotate(-90)" x="0" y="0" font-family="'Liberation Sans', sans-serif" font-size="9.4" fill="#4a4a4a" stroke="#4a4a4a" stroke-width="0.1" text-anchor="end" textLength="83.38" lengthAdjust="spacingAndGlyphs"><tspan font-size="7.33" dy="-1.2">(</tspan><tspan dy="1.2">-232.36, -212.36</tspan><tspan font-size="7.33" dy="-1.2">]</tspan></text>
<text transform="translate(132.69,1136.40) rotate(-90)" x="0" y="0" font-family="'Liberation Sans', sans-serif" font-size="9.4" fill="#4a4a4a" stroke="#4a4a4a" stroke-width="0.1" text-anchor="end" textLength="83.38" lengthAdjust="spacingAndGlyphs"><tspan font-size="7.33" dy="-1.2">(</tspan><tspan dy="1.2">-212.36, -192.36</tspan><tspan font-size="7.33" dy="-1.2">]</tspan></text>
<text transform="translate(141.58,1136.40) rotate(-90)" x="0" y="0" font-family="'Liberation Sans', sans-serif" font-size="9.4" fill="#4a4a4a" stroke="#4a4a4a" stroke-width="0.1" text-anchor="end" textLength="83.38" lengthAdjust="spacingAndGlyphs"><tspan font-size="7.33" dy="-1.2">(</tspan><tspan dy="1.2">-192.36, -172.36</tspan><tspan font-size="7.33" dy="-1.2">]</tspan></text>
<text transform="translate(150.46,1136.40) rotate(-90)" x="0" y="0" font-family="'Liberation Sans', sans-serif" font-size="9.4" fill="#4a4a4a" stroke="#4a4a4a" stroke-width="0.1" text-anchor="end" textLength="83.38" lengthAdjust="spacingAndGlyphs"><tspan font-size="7.33" dy="-1.2">(</tspan><tspan dy="1.2">-172.36, -152.36</tspan><tspan font-size="7.33" dy="-1.2">]</tspan></text>
<text transform="translate(159.35,1136.40) rotate(-90)" x="0" y="0" font-family="'Liberation Sans', sans-serif" font-size="9.4" fill="#4a4a4a" stroke="#4a4a4a" stroke-width="0.1" text-anchor="end" textLength="83.38" lengthAdjust="spacingAndGlyphs"><tspan font-size="7.33" dy="-1.2">(</tspan><tspan dy="1.2">-152.36, -132.36</tspan><tspan font-size="7.33" dy="-1.2">]</tspan></text>
<text transform="translate(168.23,1136.40) rotate(-90)" x="0" y="0" font-family="'Liberation Sans', sans-serif" font-size="9.4" fill="#4a4a4a" stroke="#4a4a4a" stroke-width="0.1" text-anchor="end" textLength="82.60" lengthAdjust="spacingAndGlyphs"><tspan font-size="7.33" dy="-1.2">(</tspan><tspan dy="1.2">-132.36, -112.36</tspan><tspan font-size="7.33" dy="-1.2">]</tspan></text>
<text transform="translate(177.12,1136.40) rotate(-90)" x="0" y="0" font-family="'Liberation Sans', sans-serif" font-size="9.4" fill="#4a4a4a" stroke="#4a4a4a" stroke-width="0.1" text-anchor="end" textLength="76.77" lengthAdjust="spacingAndGlyphs"><tspan font-size="7.33" dy="-1.2">(</tspan><tspan dy="1.2">-112.36, -92.36</tspan><tspan font-size="7.33" dy="-1.2">]</tspan></text>
<text transform="translate(186.00,1136.40) rotate(-90)" x="0" y="0" font-family="'Liberation Sans', sans-serif" font-size="9.4" fill="#4a4a4a" stroke="#4a4a4a" stroke-width="0.1" text-anchor="end" textLength="71.71" lengthAdjust="spacingAndGlyphs"><tspan font-size="7.33" dy="-1.2">(</tspan><tspan dy="1.2">-92.36, -72.36</tspan><tspan font-size="7.33" dy="-1.2">]</tspan></text>
<text transform="translate(194.89,1136.40) rotate(-90)" x="0" y="0" font-family="'Liberation Sans', sans-serif" font-size="9.4" fill="#4a4a4a" stroke="#4a4a4a" stroke-width="0.1" text-anchor="end" textLength="71.71" lengthAdjust="spacingAndGlyphs"><tspan font-size="7.33" dy="-1.2">(</tspan><tspan dy="1.2">-72.36, -52.36</tspan><tspan font-size="7.33" dy="-1.2">]</tspan></text>
<text transform="translate(203.77,1136.40) rotate(-90)" x="0" y="0" font-family="'Liberation Sans', sans-serif" font-size="9.4" fill="#4a4a4a" stroke="#4a4a4a" stroke-width="0.1" text-anchor="end" textLength="71.71" lengthAdjust="spacingAndGlyphs"><tspan font-size="7.33" dy="-1.2">(</tspan><tspan dy="1.2">-52.36, -32.36</tspan><tspan font-size="7.33" dy="-1.2">]</tspan></text>
<text transform="translate(212.66,1136.40) rotate(-90)" x="0" y="0" font-family="'Liberation Sans', sans-serif" font-size="9.4" fill="#4a4a4a" stroke="#4a4a4a" stroke-width="0.1" text-anchor="end" textLength="71.71" lengthAdjust="spacingAndGlyphs"><tspan font-size="7.33" dy="-1.2">(</tspan><tspan dy="1.2">-32.36, -12.36</tspan><tspan font-size="7.33" dy="-1.2">]</tspan></text>
<text transform="translate(221.54,1136.40) rotate(-90)" x="0" y="0" font-family="'Liberation Sans', sans-serif" font-size="9.4" fill="#4a4a4a" stroke="#4a4a4a" stroke-width="0.1" text-anchor="end" textLength="62.39" lengthAdjust="spacingAndGlyphs"><tspan font-size="7.33" dy="-1.2">(</tspan><tspan dy="1.2">-12.36, 7.64</tspan><tspan font-size="7.33" dy="-1.2">]</tspan></text>
<text transform="translate(230.43,1136.40) rotate(-90)" x="0" y="0" font-family="'Liberation Sans', sans-serif" font-size="9.4" fill="#4a4a4a" stroke="#4a4a4a" stroke-width="0.1" text-anchor="end" textLength="58.89" lengthAdjust="spacingAndGlyphs"><tspan font-size="7.33" dy="-1.2">(</tspan><tspan dy="1.2">7.64, 27.64</tspan><tspan font-size="7.33" dy="-1.2">]</tspan></text>
<text transform="translate(239.31,1136.40) rotate(-90)" x="0" y="0" font-family="'Liberation Sans', sans-serif" font-size="9.4" fill="#4a4a4a" stroke="#4a4a4a" stroke-width="0.1" text-anchor="end" textLength="64.73" lengthAdjust="spacingAndGlyphs"><tspan font-size="7.33" dy="-1.2">(</tspan><tspan dy="1.2">27.64, 47.64</tspan><tspan font-size="7.33" dy="-1.2">]</tspan></text>
<text transform="translate(248.20,1136.40) rotate(-90)" x="0" y="0" font-family="'Liberation Sans', sans-serif" font-size="9.4" fill="#4a4a4a" stroke="#4a4a4a" stroke-width="0.1" text-anchor="end" textLength="64.73" lengthAdjust="spacingAndGlyphs"><tspan font-size="7.33" dy="-1.2">(</tspan><tspan dy="1.2">47.64, 67.64</tspan><tspan font-size="7.33" dy="-1.2">]</tspan></text>
<text transform="translate(257.08,1136.40) rotate(-90)" x="0" y="0" font-family="'Liberation Sans', sans-serif" font-size="9.4" fill="#4a4a4a" stroke="#4a4a4a" stroke-width="0.1" text-anchor="end" textLength="64.73" lengthAdjust="spacingAndGlyphs"><tspan font-size="7.33" dy="-1.2">(</tspan><tspan dy="1.2">67.64, 87.64</tspan><tspan font-size="7.33" dy="-1.2">]</tspan></text>
<text transform="translate(265.97,1136.40) rotate(-90)" x="0" y="0" font-family="'Liberation Sans', sans-serif" font-size="9.4" fill="#4a4a4a" stroke="#4a4a4a" stroke-width="0.1" text-anchor="end" textLength="70.56" lengthAdjust="spacingAndGlyphs"><tspan font-size="7.33" dy="-1.2">(</tspan><tspan dy="1.2">87.64, 107.64</tspan><tspan font-size="7.33" dy="-1.2">]</tspan></text>
<text transform="translate(274.85,1136.40) rotate(-90)" x="0" y="0" font-family="'Liberation Sans', sans-serif" font-size="9.4" fill="#4a4a4a" stroke="#4a4a4a" stroke-width="0.1" text-anchor="end" textLength="76.39" lengthAdjust="spacingAndGlyphs"><tspan font-size="7.33" dy="-1.2">(</tspan><tspan dy="1.2">107.64, 127.64</tspan><tspan font-size="7.33" dy="-1.2">]</tspan></text>
<text transform="translate(283.74,1136.40) rotate(-90)" x="0" y="0" font-family="'Liberation Sans', sans-serif" font-size="9.4" fill="#4a4a4a" stroke="#4a4a4a" stroke-width="0.1" text-anchor="end" textLength="76.39" lengthAdjust="spacingAndGlyphs"><tspan font-size="7.33" dy="-1.2">(</tspan><tspan dy="1.2">127.64, 147.64</tspan><tspan font-size="7.33" dy="-1.2">]</tspan></text>
<text transform="translate(292.62,1136.40) rotate(-90)" x="0" y="0" font-family="'Liberation Sans', sans-serif" font-size="9.4" fill="#4a4a4a" stroke="#4a4a4a" stroke-width="0.1" text-anchor="end" textLength="76.39" lengthAdjust="spacingAndGlyphs"><tspan font-size="7.33" dy="-1.2">(</tspan><tspan dy="1.2">147.64, 167.64</tspan><tspan font-size="7.33" dy="-1.2">]</tspan></text>
<text transform="translate(301.51,1136.40) rotate(-90)" x="0" y="0" font-family="'Liberation Sans', sans-serif" font-size="9.4" fill="#4a4a4a" stroke="#4a4a4a" stroke-width="0.1" text-anchor="end" textLength="76.39" lengthAdjust="spacingAndGlyphs"><tspan font-size="7.33" dy="-1.2">(</tspan><tspan dy="1.2">167.64, 187.64</tspan><tspan font-size="7.33" dy="-1.2">]</tspan></text>
<text transform="translate(310.39,1136.40) rotate(-90)" x="0" y="0" font-family="'Liberation Sans', sans-serif" font-size="9.4" fill="#4a4a4a" stroke="#4a4a4a" stroke-width="0.1" text-anchor="end" textLength="76.39" lengthAdjust="spacingAndGlyphs"><tspan font-size="7.33" dy="-1.2">(</tspan><tspan dy="1.2">187.64, 207.64</tspan><tspan font-size="7.33" dy="-1.2">]</tspan></text>
<text transform="translate(319.28,1136.40) rotate(-90)" x="0" y="0" font-family="'Liberation Sans', sans-serif" font-size="9.4" fill="#4a4a4a" stroke="#4a4a4a" stroke-width="0.1" text-anchor="end" textLength="76.39" lengthAdjust="spacingAndGlyphs"><tspan font-size="7.33" dy="-1.2">(</tspan><tspan dy="1.2">207.64, 227.64</tspan><tspan font-size="7.33" dy="-1.2">]</tspan></text>
<text transform="translate(328.16,1136.40) rotate(-90)" x="0" y="0" font-family="'Liberation Sans', sans-serif" font-size="9.4" fill="#4a4a4a" stroke="#4a4a4a" stroke-width="0.1" text-anchor="end" textLength="76.39" lengthAdjust="spacingAndGlyphs"><tspan font-size="7.33" dy="-1.2">(</tspan><tspan dy="1.2">227.64, 247.64</tspan><tspan font-size="7.33" dy="-1.2">]</tspan></text>
<text transform="translate(337.05,1136.40) rotate(-90)" x="0" y="0" font-family="'Liberation Sans', sans-serif" font-size="9.4" fill="#4a4a4a" stroke="#4a4a4a" stroke-width="0.1" text-anchor="end" textLength="76.39" lengthAdjust="spacingAndGlyphs"><tspan font-size="7.33" dy="-1.2">(</tspan><tspan dy="1.2">247.64, 267.64</tspan><tspan font-size="7.33" dy="-1.2">]</tspan></text>
<text transform="translate(345.93,1136.40) rotate(-90)" x="0" y="0" font-family="'Liberation Sans', sans-serif" font-size="9.4" fill="#4a4a4a" stroke="#4a4a4a" stroke-width="0.1" text-anchor="end" textLength="76.39" lengthAdjust="spacingAndGlyphs"><tspan font-size="7.33" dy="-1.2">(</tspan><tspan dy="1.2">267.64, 287.64</tspan><tspan font-size="7.33" dy="-1.2">]</tspan></text>
<text transform="translate(354.82,1136.40) rotate(-90)" x="0" y="0" font-family="'Liberation Sans', sans-serif" font-size="9.4" fill="#4a4a4a" stroke="#4a4a4a" stroke-width="0.1" text-anchor="end" textLength="76.39" lengthAdjust="spacingAndGlyphs"><tspan font-size="7.33" dy="-1.2">(</tspan><tspan dy="1.2">287.64, 307.64</tspan><tspan font-size="7.33" dy="-1.2">]</tspan></text>
<text transform="translate(363.70,1136.40) rotate(-90)" x="0" y="0" font-family="'Liberation Sans', sans-serif" font-size="9.4" fill="#4a4a4a" stroke="#4a4a4a" stroke-width="0.1" text-anchor="end" textLength="76.39" lengthAdjust="spacingAndGlyphs"><tspan font-size="7.33" dy="-1.2">(</tspan><tspan dy="1.2">307.64, 327.64</tspan><tspan font-size="7.33" dy="-1.2">]</tspan></text>
<text transform="translate(372.59,1136.40) rotate(-90)" x="0" y="0" font-family="'Liberation Sans', sans-serif" font-size="9.4" fill="#4a4a4a" stroke="#4a4a4a" stroke-width="0.1" text-anchor="end" textLength="76.39" lengthAdjust="spacingAndGlyphs"><tspan font-size="7.33" dy="-1.2">(</tspan><tspan dy="1.2">327.64, 347.64</tspan><tspan font-size="7.33" dy="-1.2">]</tspan></text>
<text transform="translate(381.47,1136.40) rotate(-90)" x="0" y="0" font-family="'Liberation Sans', sans-serif" font-size="9.4" fill="#4a4a4a" stroke="#4a4a4a" stroke-width="0.1" text-anchor="end" textLength="76.39" lengthAdjust="spacingAndGlyphs"><tspan font-size="7.33" dy="-1.2">(</tspan><tspan dy="1.2">347.64, 367.64</tspan><tspan font-size="7.33" dy="-1.2">]</tspan></text>
<text transform="translate(390.36,1136.40) rotate(-90)" x="0" y="0" font-family="'Liberation Sans', sans-serif" font-size="9.4" fill="#4a4a4a" stroke="#4a4a4a" stroke-width="0.1" text-anchor="end" textLength="76.39" lengthAdjust="spacingAndGlyphs"><tspan font-size="7.33" dy="-1.2">(</tspan><tspan dy="1.2">367.64, 387.64</tspan><tspan font-size="7.33" dy="-1.2">]</tspan></text>
<text transform="translate(399.24,1136.40) rotate(-90)" x="0" y="0" font-family="'Liberation Sans', sans-serif" font-size="9.4" fill="#4a4a4a" stroke="#4a4a4a" stroke-width="0.1" text-anchor="end" textLength="76.39" lengthAdjust="spacingAndGlyphs"><tspan font-size="7.33" dy="-1.2">(</tspan><tspan dy="1.2">387.64, 407.64</tspan><tspan font-size="7.33" dy="-1.2">]</tspan></text>
<text transform="translate(408.13,1136.40) rotate(-90)" x="0" y="0" font-family="'Liberation Sans', sans-serif" font-size="9.4" fill="#4a4a4a" stroke="#4a4a4a" stroke-width="0.1" text-anchor="end" textLength="76.39" lengthAdjust="spacingAndGlyphs"><tspan font-size="7.33" dy="-1.2">(</tspan><tspan dy="1.2">407.64, 427.64</tspan><tspan font-size="7.33" dy="-1.2">]</tspan></text>
<text transform="translate(417.01,1136.40) rotate(-90)" x="0" y="0" font-family="'Liberation Sans', sans-serif" font-size="9.4" fill="#4a4a4a" stroke="#4a4a4a" stroke-width="0.1" text-anchor="end" textLength="76.39" lengthAdjust="spacingAndGlyphs"><tspan font-size="7.33" dy="-1.2">(</tspan><tspan dy="1.2">427.64, 447.64</tspan><tspan font-size="7.33" dy="-1.2">]</tspan></text>
<text transform="translate(425.90,1136.40) rotate(-90)" x="0" y="0" font-family="'Liberation Sans', sans-serif" font-size="9.4" fill="#4a4a4a" stroke="#4a4a4a" stroke-width="0.1" text-anchor="end" textLength="76.39" lengthAdjust="spacingAndGlyphs"><tspan font-size="7.33" dy="-1.2">(</tspan><tspan dy="1.2">447.64, 467.64</tspan><tspan font-size="7.33" dy="-1.2">]</tspan></text>
<text transform="translate(434.78,1136.40) rotate(-90)" x="0" y="0" font-family="'Liberation Sans', sans-serif" font-size="9.4" fill="#4a4a4a" stroke="#4a4a4a" stroke-width="0.1" text-anchor="end" textLength="76.39" lengthAdjust="spacingAndGlyphs"><tspan font-size="7.33" dy="-1.2">(</tspan><tspan dy="1.2">467.64, 487.64</tspan><tspan font-size="7.33" dy="-1.2">]</tspan></text>
<text transform="translate(443.67,1136.40) rotate(-90)" x="0" y="0" font-family="'Liberation Sans', sans-serif" font-size="9.4" fill="#4a4a4a" stroke="#4a4a4a" stroke-width="0.1" text-anchor="end" textLength="76.39" lengthAdjust="spacingAndGlyphs"><tspan font-size="7.33" dy="-1.2">(</tspan><tspan dy="1.2">487.64, 507.64</tspan><tspan font-size="7.33" dy="-1.2">]</tspan></text>
<text transform="translate(452.55,1136.40) rotate(-90)" x="0" y="0" font-family="'Liberation Sans', sans-serif" font-size="9.4" fill="#4a4a4a" stroke="#4a4a4a" stroke-width="0.1" text-anchor="end" textLength="76.39" lengthAdjust="spacingAndGlyphs"><tspan font-size="7.33" dy="-1.2">(</tspan><tspan dy="1.2">507.64, 527.64</tspan><tspan font-size="7.33" dy="-1.2">]</tspan></text>
<text transform="translate(461.44,1136.40) rotate(-90)" x="0" y="0" font-family="'Liberation Sans', sans-serif" font-size="9.4" fill="#4a4a4a" stroke="#4a4a4a" stroke-width="0.1" text-anchor="end" textLength="76.39" lengthAdjust="spacingAndGlyphs"><tspan font-size="7.33" dy="-1.2">(</tspan><tspan dy="1.2">527.64, 547.64</tspan><tspan font-size="7.33" dy="-1.2">]</tspan></text>
<text transform="translate(470.32,1136.40) rotate(-90)" x="0" y="0" font-family="'Liberation Sans', sans-serif" font-size="9.4" fill="#4a4a4a" stroke="#4a4a4a" stroke-width="0.1" text-anchor="end" textLength="76.39" lengthAdjust="spacingAndGlyphs"><tspan font-size="7.33" dy="-1.2">(</tspan><tspan dy="1.2">547.64, 567.64</tspan><tspan font-size="7.33" dy="-1.2">]</tspan></text>
<text transform="translate(479.21,1136.40) rotate(-90)" x="0" y="0" font-family="'Liberation Sans', sans-serif" font-size="9.4" fill="#4a4a4a" stroke="#4a4a4a" stroke-width="0.1" text-anchor="end" textLength="76.39" lengthAdjust="spacingAndGlyphs"><tspan font-size="7.33" dy="-1.2">(</tspan><tspan dy="1.2">567.64, 587.64</tspan><tspan font-size="7.33" dy="-1.2">]</tspan></text>
<text transform="translate(488.09,1136.40) rotate(-90)" x="0" y="0" font-family="'Liberation Sans', sans-serif" font-size="9.4" fill="#4a4a4a" stroke="#4a4a4a" stroke-width="0.1" text-anchor="end" textLength="76.39" lengthAdjust="spacingAndGlyphs"><tspan font-size="7.33" dy="-1.2">(</tspan><tspan dy="1.2">587.64, 607.64</tspan><tspan font-size="7.33" dy="-1.2">]</tspan></text>
<text transform="translate(496.98,1136.40) rotate(-90)" x="0" y="0" font-family="'Liberation Sans', sans-serif" font-size="9.4" fill="#4a4a4a" stroke="#4a4a4a" stroke-width="0.1" text-anchor="end" textLength="76.39" lengthAdjust="spacingAndGlyphs"><tspan font-size="7.33" dy="-1.2">(</tspan><tspan dy="1.2">607.64, 627.64</tspan><tspan font-size="7.33" dy="-1.2">]</tspan></text>
<text transform="translate(505.86,1136.40) rotate(-90)" x="0" y="0" font-family="'Liberation Sans', sans-serif" font-size="9.4" fill="#4a4a4a" stroke="#4a4a4a" stroke-width="0.1" text-anchor="end" textLength="76.39" lengthAdjust="spacingAndGlyphs"><tspan font-size="7.33" dy="-1.2">(</tspan><tspan dy="1.2">627.64, 647.64</tspan><tspan font-size="7.33" dy="-1.2">]</tspan></text>
<text transform="translate(514.75,1136.40) rotate(-90)" x="0" y="0" font-family="'Liberation Sans', sans-serif" font-size="9.4" fill="#4a4a4a" stroke="#4a4a4a" stroke-width="0.1" text-anchor="end" textLength="76.39" lengthAdjust="spacingAndGlyphs"><tspan font-size="7.33" dy="-1.2">(</tspan><tspan dy="1.2">647.64, 667.64</tspan><tspan font-size="7.33" dy="-1.2">]</tspan></text>
<text transform="translate(523.63,1136.40) rotate(-90)" x="0" y="0" font-family="'Liberation Sans', sans-serif" font-size="9.4" fill="#4a4a4a" stroke="#4a4a4a" stroke-width="0.1" text-anchor="end" textLength="76.39" lengthAdjust="spacingAndGlyphs"><tspan font-size="7.33" dy="-1.2">(</tspan><tspan dy="1.2">667.64, 687.64</tspan><tspan font-size="7.33" dy="-1.2">]</tspan></text>
<text transform="translate(532.52,1136.40) rotate(-90)" x="0" y="0" font-family="'Liberation Sans', sans-serif" font-size="9.4" fill="#4a4a4a" stroke="#4a4a4a" stroke-width="0.1" text-anchor="end" textLength="76.39" lengthAdjust="spacingAndGlyphs"><tspan font-size="7.33" dy="-1.2">(</tspan><tspan dy="1.2">687.64, 707.64</tspan><tspan font-size="7.33" dy="-1.2">]</tspan></text>
<text transform="translate(541.40,1136.40) rotate(-90)" x="0" y="0" font-family="'Liberation Sans', sans-serif" font-size="9.4" fill="#4a4a4a" stroke="#4a4a4a" stroke-width="0.1" text-anchor="end" textLength="76.39" lengthAdjust="spacingAndGlyphs"><tspan font-size="7.33" dy="-1.2">(</tspan><tspan dy="1.2">707.64, 727.64</tspan><tspan font-size="7.33" dy="-1.2">]</tspan></text>
<text transform="translate(550.29,1136.40) rotate(-90)" x="0" y="0" font-family="'Liberation Sans', sans-serif" font-size="9.4" fill="#4a4a4a" stroke="#4a4a4a" stroke-width="0.1" text-anchor="end" textLength="76.39" lengthAdjust="spacingAndGlyphs"><tspan font-size="7.33" dy="-1.2">(</tspan><tspan dy="1.2">727.64, 747.64</tspan><tspan font-size="7.33" dy="-1.2">]</tspan></text>
<text transform="translate(559.17,1136.40) rotate(-90)" x="0" y="0" font-family="'Liberation Sans', sans-serif" font-size="9.4" fill="#4a4a4a" stroke="#4a4a4a" stroke-width="0.1" text-anchor="end" textLength="76.39" lengthAdjust="spacingAndGlyphs"><tspan font-size="7.33" dy="-1.2">(</tspan><tspan dy="1.2">747.64, 767.64</tspan><tspan font-size="7.33" dy="-1.2">]</tspan></text>
<text transform="translate(568.06,1136.40) rotate(-90)" x="0" y="0" font-family="'Liberation Sans', sans-serif" font-size="9.4" fill="#4a4a4a" stroke="#4a4a4a" stroke-width="0.1" text-anchor="end" textLength="76.39" lengthAdjust="spacingAndGlyphs"><tspan font-size="7.33" dy="-1.2">(</tspan><tspan dy="1.2">767.64, 787.64</tspan><tspan font-size="7.33" dy="-1.2">]</tspan></text>
<text transform="translate(576.94,1136.40) rotate(-90)" x="0" y="0" font-family="'Liberation Sans', sans-serif" font-size="9.4" fill="#4a4a4a" stroke="#4a4a4a" stroke-width="0.1" text-anchor="end" textLength="76.39" lengthAdjust="spacingAndGlyphs"><tspan font-size="7.33" dy="-1.2">(</tspan><tspan dy="1.2">787.64, 807.64</tspan><tspan font-size="7.33" dy="-1.2">]</tspan></text>
<text transform="translate(585.83,1136.40) rotate(-90)" x="0" y="0" font-family="'Liberation Sans', sans-serif" font-size="9.4" fill="#4a4a4a" stroke="#4a4a4a" stroke-width="0.1" text-anchor="end" textLength="76.39" lengthAdjust="spacingAndGlyphs"><tspan font-size="7.33" dy="-1.2">(</tspan><tspan dy="1.2">807.64, 827.64</tspan><tspan font-size="7.33" dy="-1.2">]</tspan></text>
<text transform="translate(594.71,1136.40) rotate(-90)" x="0" y="0" font-family="'Liberation Sans', sans-serif" font-size="9.4" fill="#4a4a4a" stroke="#4a4a4a" stroke-width="0.1" text-anchor="end" textLength="76.39" lengthAdjust="spacingAndGlyphs"><tspan font-size="7.33" dy="-1.2">(</tspan><tspan dy="1.2">827.64, 847.64</tspan><tspan font-size="7.33" dy="-1.2">]</tspan></text>
<text transform="translate(603.60,1136.40) rotate(-90)" x="0" y="0" font-family="'Liberation Sans', sans-serif" font-size="9.4" fill="#4a4a4a" stroke="#4a4a4a" stroke-width="0.1" text-anchor="end" textLength="76.39" lengthAdjust="spacingAndGlyphs"><tspan font-size="7.33" dy="-1.2">(</tspan><tspan dy="1.2">847.64, 867.64</tspan><tspan font-size="7.33" dy="-1.2">]</tspan></text>
<text transform="translate(612.48,1136.40) rotate(-90)" x="0" y="0" font-family="'Liberation Sans', sans-serif" font-size="9.4" fill="#4a4a4a" stroke="#4a4a4a" stroke-width="0.1" text-anchor="end" textLength="76.39" lengthAdjust="spacingAndGlyphs"><tspan font-size="7.33" dy="-1.2">(</tspan><tspan dy="1.2">867.64, 887.64</tspan><tspan font-size="7.33" dy="-1.2">]</tspan></text>
<text transform="translate(621.37,1136.40) rotate(-90)" x="0" y="0" font-family="'Liberation Sans', sans-serif" font-size="9.4" fill="#4a4a4a" stroke="#4a4a4a" stroke-width="0.1" text-anchor="end" textLength="76.39" lengthAdjust="spacingAndGlyphs"><tspan font-size="7.33" dy="-1.2">(</tspan><tspan dy="1.2">887.64, 907.64</tspan><tspan font-size="7.33" dy="-1.2">]</tspan></text>
<text transform="translate(630.25,1136.40) rotate(-90)" x="0" y="0" font-family="'Liberation Sans', sans-serif" font-size="9.4" fill="#4a4a4a" stroke="#4a4a4a" stroke-width="0.1" text-anchor="end" textLength="76.39" lengthAdjust="spacingAndGlyphs"><tspan font-size="7.33" dy="-1.2">(</tspan><tspan dy="1.2">907.64, 927.64</tspan><tspan font-size="7.33" dy="-1.2">]</tspan></text>
<text transform="translate(639.14,1136.40) rotate(-90)" x="0" y="0" font-family="'Liberation Sans', sans-serif" font-size="9.4" fill="#4a4a4a" stroke="#4a4a4a" stroke-width="0.1" text-anchor="end" textLength="76.39" lengthAdjust="spacingAndGlyphs"><tspan font-size="7.33" dy="-1.2">(</tspan><tspan dy="1.2">927.64, 947.64</tspan><tspan font-size="7.33" dy="-1.2">]</tspan></text>
<text transform="translate(648.02,1136.40) rotate(-90)" x="0" y="0" font-family="'Liberation Sans', sans-serif" font-size="9.4" fill="#4a4a4a" stroke="#4a4a4a" stroke-width="0.1" text-anchor="end" textLength="76.39" lengthAdjust="spacingAndGlyphs"><tspan font-size="7.33" dy="-1.2">(</tspan><tspan dy="1.2">947.64, 967.64</tspan><tspan font-size="7.33" dy="-1.2">]</tspan></text>
<text transform="translate(656.91,1136.40) rotate(-90)" x="0" y="0" font-family="'Liberation Sans', sans-serif" font-size="9.4" fill="#4a4a4a" stroke="#4a4a4a" stroke-width="0.1" text-anchor="end" textLength="76.39" lengthAdjust="spacingAndGlyphs"><tspan font-size="7.33" dy="-1.2">(</tspan><tspan dy="1.2">967.64, 987.64</tspan><tspan font-size="7.33" dy="-1.2">]</tspan></text>
<text transform="translate(665.79,1136.40) rotate(-90)" x="0" y="0" font-family="'Liberation Sans', sans-serif" font-size="9.4" fill="#4a4a4a" stroke="#4a4a4a" stroke-width="0.1" text-anchor="end" textLength="82.23" lengthAdjust="spacingAndGlyphs"><tspan font-size="7.33" dy="-1.2">(</tspan><tspan dy="1.2">987.64, 1007.64</tspan><tspan font-size="7.33" dy="-1.2">]</tspan></text>
<text transform="translate(674.68,1136.40) rotate(-90)" x="0" y="0" font-family="'Liberation Sans', sans-serif" font-size="9.4" fill="#4a4a4a" stroke="#4a4a4a" stroke-width="0.1" text-anchor="end" textLength="88.06" lengthAdjust="spacingAndGlyphs"><tspan font-size="7.33" dy="-1.2">(</tspan><tspan dy="1.2">1007.64, 1027.64</tspan><tspan font-size="7.33" dy="-1.2">]</tspan></text>
<rect x="142.15" y="952.75" width="85.00" height="28.40" fill="#fff" stroke="#222" stroke-width="1.5"/>
<text x="148.90" y="967.40" font-family="'Liberation Sans', sans-serif" font-size="9.6" fill="#ff2020" text-anchor="start" textLength="68.30" lengthAdjust="spacingAndGlyphs" stroke="#ff2020" stroke-width="0.2">CVAR(95) = -83.22%</text>
<path d="M179.35,981.90 L185.45,981.90 L185.45,1110.60 L188.15,1110.60 L182.40,1118.30 L176.65,1110.60 L179.35,1110.60 Z" fill="#ed7d31" stroke="#b3581f" stroke-width="0.7" stroke-linejoin="miter"/>
<rect x="107.65" y="990.85" width="84.60" height="21.70" fill="#fff" stroke="#222" stroke-width="1.5"/>
<text x="114.20" y="1005.20" font-family="'Liberation Sans', sans-serif" font-size="9.6" fill="#ff2020" text-anchor="start" textLength="71.80" lengthAdjust="spacingAndGlyphs" stroke="#ff2020" stroke-width="0.2">CVAR(99) = -145.22%</text>
<path d="M154.85,1013.30 L160.75,1013.30 L160.75,1119.10 L163.75,1119.10 L157.80,1126.70 L151.85,1119.10 L154.85,1119.10 Z" fill="#ed7d31" stroke="#b3581f" stroke-width="0.7" stroke-linejoin="miter"/>
</svg></body></html>
